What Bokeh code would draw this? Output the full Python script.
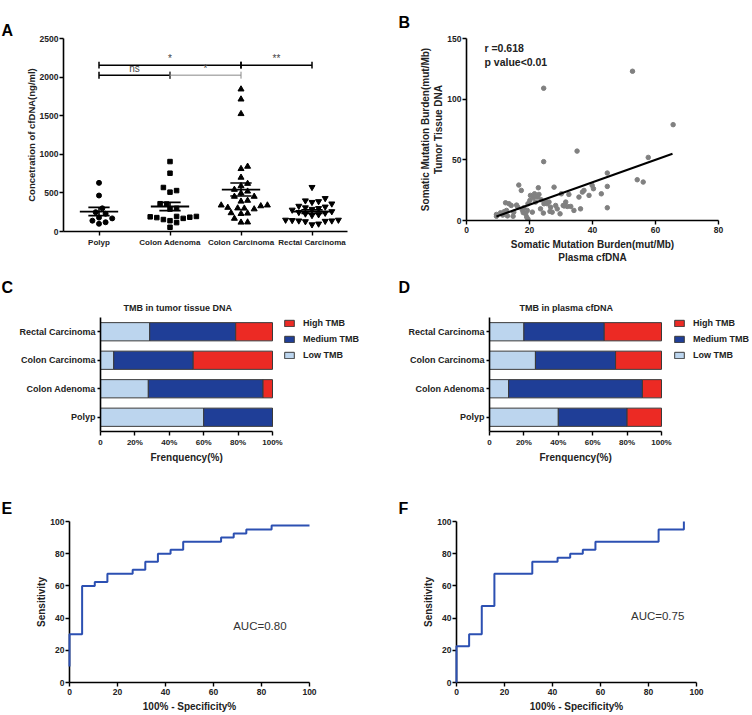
import numpy as np
from bokeh.plotting import figure
from bokeh.layouts import column, row
from bokeh.models import (Range1d, FactorRange, FixedTicker, Label, Legend,
                          LegendItem, ColumnDataSource, Title)
from bokeh.embed import file_html
from bokeh.resources import INLINE

FONT = "Liberation Sans"

# ---------------- data ----------------
# Panel A: plasma cfDNA concentration (ng/ml)
groups = ["Polyp", "Colon Adenoma", "Colon Carcinoma", "Rectal Carcinoma"]
polyp_cfdna = [630, 466, 300, 250, 230, 180, 170, 140, 120, 100]
adenoma_cfdna = [906, 755, 570, 530, 510, 360, 355, 300, 290, 195, 195, 190,
                 185, 180, 170, 155, 140, 115, 55]
carcinoma_cfdna = [1843, 1713, 1524, 842, 812, 700, 620, 590, 543, 520, 496,
                   453, 453, 401, 390, 340, 340, 330, 310, 302, 300, 290, 240,
                   235, 230, 168, 120, 118]
rectal_cfdna = [574, 430, 400, 390, 380, 360, 330, 320, 310, 300, 290, 280,
                260, 250, 240, 230, 220, 210, 150, 150, 145, 140, 140, 135,
                130, 100, 90]
group_markers = ["circle", "square", "triangle", "inverted_triangle"]
group_sizes = [5, 4.5, 6, 6]
# significance brackets
bracket_x0 = [0.5, 2.5, 0.5, 1.5]
bracket_x1 = [2.5, 3.5, 1.5, 2.5]
bracket_y = [2155, 2155, 2025, 2025]
bracket_text = ["*", "**", "ns", "*"]
bracket_color = ["black", "black", "black", "#888888"]

# Panel B: TMB plasma vs tissue
b_plasma = [9.5, 9.5, 10.8, 11.9, 12.4, 12.7, 13.5, 14.2, 15.0, 15.9,
            16.3, 16.6, 17.4, 17.7, 18.2, 18.8, 19.1, 19.3, 19.5, 19.5,
            20.1, 20.3, 20.9, 21.2, 21.6, 21.9, 22.5, 22.8, 23.0, 23.5,
            23.7, 24.4, 24.5, 24.5, 24.6, 25.1, 25.6, 26.2, 26.7, 27.2,
            27.8, 28.3, 28.8, 29.7, 30.1, 30.7, 31.5, 32.0, 32.5, 33.1,
            34.1, 35.1, 35.7, 36.2, 36.8, 37.3, 38.9, 39.9, 40.3, 42.8,
            44.7, 44.7, 44.7, 52.7, 54.2, 56.1, 57.7, 65.6,
            11.5, 13.0, 14.8, 18.0, 26.5, 31.0]
b_tissue = [5.0, 3.5, 6.3, 7.2, 14.6, 8.3, 13.8, 12.4, 6.9, 12.7,
            11.0, 29.2, 24.8, 8.8, 10.5, 5.5, 2.8, 8.3, 13.8, 1.2,
            16.5, 20.7, 6.9, 18.7, 22.0, 15.2, 19.3, 27.0, 21.5, 9.6,
            17.1, 6.1, 109, 48.5, 13.8, 16.0, 13.8, 15.2, 11.0, 6.9,
            27.5, 12.4, 9.6, 5.5, 22.0, 12.4, 15.2, 11.6, 21.5, 11.6,
            8.3, 57.2, 19.3, 9.6, 23.4, 24.8, 20.7, 28.9, 26.2, 22.0,
            28.1, 39.1, 10.5, 123, 33.6, 31.7, 52, 79,
            4.5, 3.8, 3.5, 6.5, 7.5, 12.0]
fit_x = [9.5, 65.4]
fit_y = [3.3, 55.0]

# Panels C / D: TMB category frequency (%)
tmb_cats = ["Polyp", "Colon Adenoma", "Colon Carcinoma", "Rectal Carcinoma"]
tissue_low = [60.0, 27.8, 7.7, 28.6]
tissue_med = [40.0, 66.7, 46.2, 50.0]
tissue_high = [0.0, 5.5, 46.1, 21.4]
plasma_low = [40.0, 11.1, 26.7, 20.0]
plasma_med = [40.0, 77.8, 46.6, 46.7]
plasma_high = [20.0, 11.1, 26.7, 33.3]
pct_ticks = [0, 20, 40, 60, 80, 100]
pct_labels = ["0", "20%", "40%", "60%", "80%", "100%"]

# Panels E / F: ROC curves (100% - specificity, sensitivity)
roc_e_x = [0, 0, 5.26, 5.26, 10.53, 10.53, 15.79, 15.79, 26.32, 26.32,
           31.58, 31.58, 36.84, 36.84, 42.11, 42.11, 47.37, 47.37, 63.16,
           63.16, 68.42, 68.42, 73.68, 73.68, 84.21, 84.21, 100]
roc_e_y = [10, 30, 30, 60, 60, 62.5, 62.5, 67.5, 67.5, 70, 70, 75, 75, 80,
           80, 82.5, 82.5, 87.5, 87.5, 90, 90, 92.5, 92.5, 95, 95, 97.5, 97.5]
roc_f_x = [0, 0, 5.26, 5.26, 10.53, 10.53, 15.79, 15.79, 31.58, 31.58,
           42.11, 42.11, 47.37, 47.37, 52.63, 52.63, 57.89, 57.89, 84.21,
           84.21, 94.74, 94.74]
roc_f_y = [0, 22.5, 22.5, 30, 30, 47.5, 47.5, 67.5, 67.5, 75, 75, 77.5,
           77.5, 80, 80, 82.5, 82.5, 87.5, 87.5, 95, 95, 100]
auc_e = "AUC=0.80"
auc_f = "AUC=0.75"

RED = "#ec2a24"
DBLUE = "#1f3e97"
LBLUE = "#bcd5ee"
ROC_BLUE = "#2c50b2"


def style(p, tick_size="8.5px", label_size="10px"):
    p.xgrid.visible = False
    p.ygrid.visible = False
    p.outline_line_color = None
    for ax in p.axis:
        ax.axis_line_width = 1.6
        ax.axis_line_color = "black"
        ax.major_tick_line_width = 1.4
        ax.major_tick_out = 4
        ax.major_tick_in = 0
        ax.minor_tick_line_color = None
        ax.major_label_text_font = FONT
        ax.major_label_text_font_style = "bold"
        ax.major_label_text_font_size = tick_size
        ax.major_label_text_color = "#222222"
        ax.major_label_standoff = 2
        ax.axis_label_text_font = FONT
        ax.axis_label_text_font_style = "bold"
        ax.axis_label_text_font_size = label_size
        ax.axis_label_text_color = "#222222"
        ax.axis_label_standoff = 4
    for ax in p.yaxis:
        ax.axis_label_standoff = 0
        ax.major_label_standoff = 1


def letter(p, text, offset, standoff):
    t = p.title
    t.text = text
    t.align = "left"
    t.offset = offset
    t.standoff = standoff
    t.text_font = FONT
    t.text_font_style = "bold"
    t.text_font_size = "16px"
    t.text_color = "black"


def swarm(vals, center, ppx_x, ppx_y, d=6.0):
    order = np.argsort(vals)
    xs = [0.0] * len(vals)
    placed = []
    cands = [0] + [s * i for i in range(1, 30) for s in (1, -1)]
    for idx in order:
        yv = vals[idx] * ppx_y
        for c in cands:
            xv = c * d * 0.55
            if all((xv - px) ** 2 + (yv - py) ** 2 >= d * d for px, py in placed):
                break
        placed.append((xv, yv))
        xs[idx] = center + xv / ppx_x
    return xs


# ---------------- Panel A ----------------
A_FW, A_FH = 284, 193
pA = figure(frame_width=A_FW, frame_height=A_FH, min_border_left=63,
            min_border_right=29, min_border_top=22, min_border_bottom=50,
            x_range=Range1d(0, 4), y_range=Range1d(0, 2500),
            output_backend="svg", toolbar_location=None)
style(pA)
pA.xaxis.ticker = FixedTicker(ticks=[0.5, 1.5, 2.5, 3.5])
pA.xaxis.major_label_overrides = {0.5: groups[0], 1.5: groups[1],
                                  2.5: groups[2], 3.5: groups[3]}
pA.xaxis.major_label_text_font_size = "8px"
pA.yaxis.ticker = FixedTicker(ticks=[0, 500, 1000, 1500, 2000, 2500])
pA.yaxis.axis_label = "Concetration of cfDNA(ng/ml)"
pA.yaxis.axis_label_text_font_size = "9.5px"

all_groups = [polyp_cfdna, adenoma_cfdna, carcinoma_cfdna, rectal_cfdna]
for i, vals in enumerate(all_groups):
    c = i + 0.5
    xs = swarm(vals, c, A_FW / 4, A_FH / 2500)
    pA.scatter(xs, vals, marker=group_markers[i], size=group_sizes[i],
               color="black")
    arr = np.array(vals, dtype=float)
    mean = arr.mean()
    sem = arr.std(ddof=1) / np.sqrt(len(arr))
    pA.segment(x0=[c - 0.27], y0=[mean], x1=[c + 0.27], y1=[mean],
               line_color="black", line_width=1.8)
    pA.segment(x0=[c - 0.15, c - 0.15, c], y0=[mean + sem, mean - sem, mean - sem],
               x1=[c + 0.15, c + 0.15, c], y1=[mean + sem, mean - sem, mean + sem],
               line_color="black", line_width=1.6)

for x0, x1, y, t, col in zip(bracket_x0, bracket_x1, bracket_y, bracket_text,
                             bracket_color):
    lw = 1.5 if col == "black" else 1.0
    pA.segment(x0=[x0, x0, x1], y0=[y, y - 45, y - 45], x1=[x1, x0, x1],
               y1=[y, y + 45, y + 45], line_color=col, line_width=lw)
    pA.add_layout(Label(x=(x0 + x1) / 2, y=y + 15, text=t, text_font=FONT,
                        text_font_size="10px", text_align="center",
                        text_baseline="bottom", text_color="#444444"))
letter(pA, "A", -62, 0)

# ---------------- Panel B ----------------
B_FW, B_FH = 252, 182
pB = figure(frame_width=B_FW, frame_height=B_FH, min_border_left=90,
            min_border_right=34, min_border_top=38, min_border_bottom=45,
            x_range=Range1d(0, 80), y_range=Range1d(0, 150),
            output_backend="svg", toolbar_location=None)
style(pB)
pB.xaxis.ticker = FixedTicker(ticks=[0, 20, 40, 60, 80])
pB.yaxis.ticker = FixedTicker(ticks=[0, 50, 100, 150])
pB.xaxis.axis_label = "Somatic Mutation Burden(mut/Mb)\nPlasma cfDNA"
pB.yaxis.axis_label = "Somatic Mutation Burden(mut/Mb)\nTumor Tissue DNA"
pB.xaxis.axis_label_standoff = 3
pB.scatter(b_plasma, b_tissue, size=4.5, color="#808080")
pB.line(fit_x, fit_y, line_color="black", line_width=2)
pB.add_layout(Label(x=5.7, y=142, text="r =0.618", text_font=FONT,
                    text_font_style="bold", text_font_size="10.5px",
                    text_baseline="middle", text_color="#222222"))
pB.add_layout(Label(x=5.7, y=131, text="p value<0.01", text_font=FONT,
                    text_font_style="bold", text_font_size="10.5px",
                    text_baseline="middle", text_color="#222222"))
letter(pB, "B", -68, 16)


# ---------------- Panels C / D ----------------
def tmb_panel(low, med, high, title, bl, bar_px, total_w, title_off,
              letter_text, letter_off, legend_x):
    FH = 114
    fw = total_w - bl
    x_end = 100.0 * fw / bar_px   # frame extends right to hold the legend
    src = ColumnDataSource(dict(cat=tmb_cats, low=low, med=med, high=high))
    p = figure(frame_width=fw, frame_height=FH, min_border_left=bl,
               min_border_right=0, min_border_top=52, min_border_bottom=31,
               y_range=FactorRange(factors=tmb_cats, range_padding=0),
               x_range=Range1d(0, x_end), output_backend="svg",
               toolbar_location=None)
    style(p, tick_size="8px")
    p.yaxis.major_label_text_font_size = "9px"
    p.yaxis.major_label_standoff = 2
    p.y_range.factor_padding = 0
    rs = p.hbar_stack(["low", "med", "high"], y="cat", height=0.64,
                      color=[LBLUE, DBLUE, RED], source=src,
                      line_color="#3a3a3a", line_width=1)
    p.xaxis.ticker = FixedTicker(ticks=pct_ticks)
    p.xaxis.bounds = (0, 100)
    p.xaxis.major_label_overrides = dict(zip(pct_ticks, pct_labels))
    p.yaxis.major_tick_out = 3
    # x-axis title centred under the 0-100% axis
    p.add_layout(Title(text="Frenquency(%)", align="left",
                       offset=int(bar_px / 2 - 36), standoff=1,
                       text_font=FONT, text_font_style="bold",
                       text_font_size="10px", text_color="#222222"), "below")
    legend = Legend(items=[LegendItem(label="High TMB", renderers=[rs[2]]),
                           LegendItem(label="Medium TMB", renderers=[rs[1]]),
                           LegendItem(label="Low TMB", renderers=[rs[0]])],
                    location=(legend_x, 70), label_text_font=FONT,
                    label_text_font_style="bold", label_text_font_size="9px",
                    label_text_color="#222222", glyph_width=12,
                    glyph_height=8, label_standoff=8, spacing=4, padding=0,
                    margin=0, label_height=12, border_line_color=None,
                    background_fill_alpha=0)
    p.add_layout(legend)
    p.add_layout(Title(text=title, align="left", offset=title_off,
                       standoff=10, text_font=FONT, text_font_style="bold",
                       text_font_size="9px", text_color="#222222"), "above")
    letter(p, letter_text, letter_off, 0)
    return p


pC = tmb_panel(tissue_low, tissue_med, tissue_high, "TMB in tumor tissue DNA",
               100, 172, 376, 23, "C", -99, 183)
pD = tmb_panel(plasma_low, plasma_med, plasma_high, "TMB in plasma cfDNA",
               113, 172, 376, 30, "D", -91, 184)


# ---------------- Panels E / F ----------------
def roc_panel(rx, ry, auc, auc_x, auc_y, bl, br, letter_text, letter_off):
    FH = 161
    p = figure(frame_width=240, frame_height=FH, min_border_left=bl,
               min_border_right=br, min_border_top=58, min_border_bottom=33,
               x_range=Range1d(0, 100), y_range=Range1d(0, 100),
               output_backend="svg", toolbar_location=None)
    style(p)
    p.xaxis.ticker = FixedTicker(ticks=[0, 20, 40, 60, 80, 100])
    p.yaxis.ticker = FixedTicker(ticks=[0, 20, 40, 60, 80, 100])
    p.xaxis.axis_label = "100% - Specificity%"
    p.yaxis.axis_label = "Sensitivity"
    p.xaxis.axis_label_standoff = 3
    p.line(rx, ry, line_color=ROC_BLUE, line_width=2, level="overlay")
    p.add_layout(Label(x=auc_x, y=auc_y, text=auc, text_font=FONT,
                       text_font_size="11.5px", text_baseline="middle",
                       text_color="#333333"))
    letter(p, letter_text, letter_off, 10)
    return p


pE = roc_panel(roc_e_x, roc_e_y, auc_e, 68.2, 35.3, 69, 67, "E", -68)
pF = roc_panel(roc_f_x, roc_f_y, auc_f, 72.7, 41.0, 80, 56, "F", -58)

layout = column(row(pA, pB), row(pC, pD), row(pE, pF))
open("out.html", "w").write(file_html(layout, INLINE))
